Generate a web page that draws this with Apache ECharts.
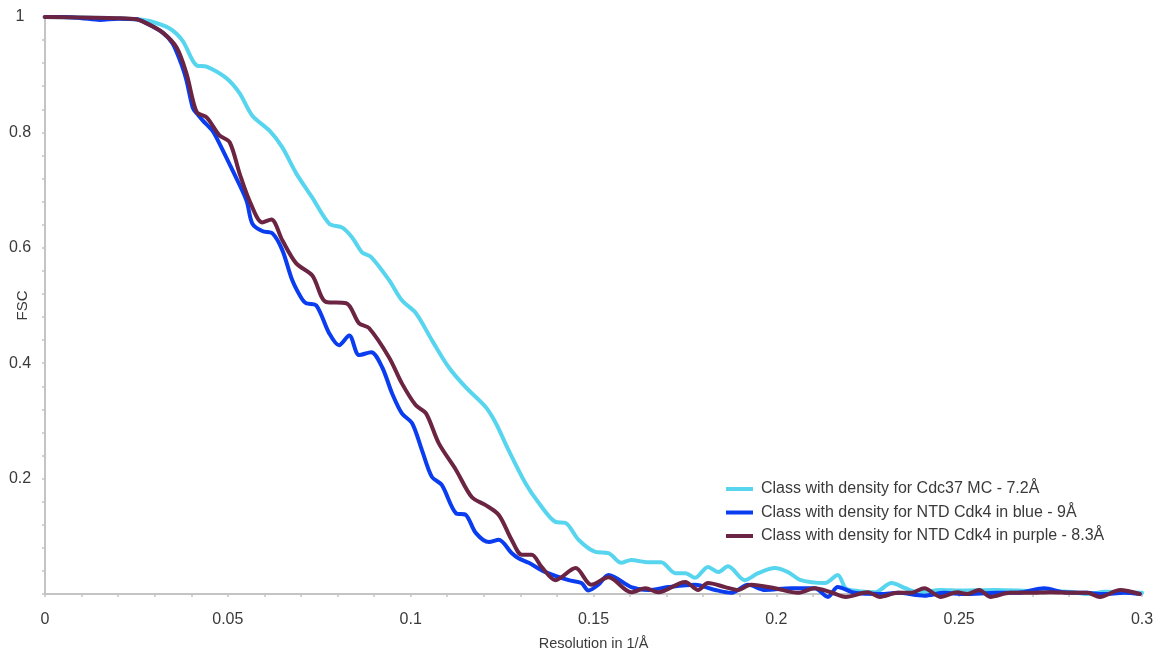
<!DOCTYPE html>
<html>
<head>
<meta charset="utf-8">
<title>FSC curves</title>
<script src="https://cdn.jsdelivr.net/npm/echarts@6/dist/echarts.min.js"></script>
<style>
  html, body { margin: 0; padding: 0; background: #ffffff; }
  #chart { width: 1164px; height: 655px; }
</style>
</head>
<body>
<div id="chart"></div>
<script>
// Fourier shell correlation curves: [resolution (1/Å), FSC]
const seriesNames = [
  'Class with density for Cdc37 MC - 7.2Å',
  'Class with density for NTD Cdk4 in blue - 9Å',
  'Class with density for NTD Cdk4 in purple - 8.3Å'
];

const cdc37MC = [
  [0, 1.0], [0.01, 0.999], [0.02, 0.998], [0.025, 0.996], [0.0286, 0.993],
  [0.0341, 0.980], [0.0376, 0.959], [0.0415, 0.916], [0.0442, 0.914],
  [0.0496, 0.894], [0.0532, 0.868], [0.0567, 0.829], [0.0614, 0.803],
  [0.0649, 0.774], [0.0687, 0.729], [0.0731, 0.687], [0.0777, 0.642],
  [0.0813, 0.635], [0.0840, 0.618], [0.0867, 0.592], [0.0892, 0.584],
  [0.0941, 0.544], [0.0976, 0.509], [0.1014, 0.487], [0.1058, 0.440],
  [0.1104, 0.393], [0.1151, 0.358], [0.1205, 0.324], [0.1233, 0.296],
  [0.1268, 0.249], [0.1314, 0.192], [0.1350, 0.158], [0.1396, 0.125],
  [0.1424, 0.123], [0.1459, 0.094], [0.1505, 0.073], [0.1541, 0.071],
  [0.1576, 0.054], [0.1603, 0.059], [0.1650, 0.055], [0.1685, 0.055],
  [0.1724, 0.036], [0.1751, 0.036], [0.1778, 0.028], [0.1813, 0.047],
  [0.1841, 0.038], [0.1868, 0.048], [0.1914, 0.024], [0.1950, 0.036],
  [0.1996, 0.045], [0.2032, 0.038], [0.2067, 0.024], [0.2133, 0.019],
  [0.2168, 0.033], [0.2190, 0.010], [0.2226, 0.005], [0.2270, 0.003],
  [0.2315, 0.019], [0.2353, 0.010], [0.2390, 0.003], [0.2450, 0.007],
  [0.2500, 0.006], [0.2600, 0.007], [0.2700, 0.005], [0.2800, 0.004],
  [0.2850, 0.000], [0.2900, 0.004], [0.3000, 0.002]
];

const ntdBlue = [
  [0, 1.0], [0.005, 1.0], [0.01, 0.998], [0.015, 0.995], [0.02, 0.997],
  [0.025, 0.996], [0.0278, 0.989], [0.0322, 0.973], [0.0349, 0.954],
  [0.0376, 0.913], [0.0387, 0.890], [0.0404, 0.843], [0.0415, 0.833],
  [0.0431, 0.821], [0.0458, 0.803], [0.0469, 0.791], [0.0513, 0.734],
  [0.0551, 0.682], [0.0567, 0.642], [0.0594, 0.629], [0.0622, 0.625],
  [0.0649, 0.596], [0.0676, 0.544], [0.0701, 0.513], [0.0714, 0.504],
  [0.0742, 0.500], [0.0777, 0.452], [0.0804, 0.431], [0.0832, 0.448],
  [0.0859, 0.414], [0.0892, 0.419], [0.0922, 0.393], [0.0949, 0.348],
  [0.0976, 0.313], [0.1004, 0.296], [0.1031, 0.249], [0.1058, 0.203],
  [0.1085, 0.189], [0.1124, 0.140], [0.1151, 0.137], [0.1178, 0.106],
  [0.1214, 0.090], [0.1241, 0.094], [0.1276, 0.071], [0.1295, 0.062],
  [0.1323, 0.054], [0.1369, 0.038], [0.1432, 0.024], [0.1467, 0.019],
  [0.1486, 0.006], [0.1513, 0.016], [0.1541, 0.033], [0.1603, 0.012],
  [0.1650, 0.007], [0.1704, 0.012], [0.1778, 0.016], [0.1833, 0.007],
  [0.1876, 0.002], [0.1923, 0.016], [0.1969, 0.007], [0.2040, 0.010],
  [0.2105, 0.010], [0.2141, -0.005], [0.2168, 0.012], [0.2214, 0.002],
  [0.2285, 0.000], [0.2332, 0.002], [0.2405, -0.003], [0.2460, 0.002],
  [0.2514, 0.000], [0.2604, 0.002], [0.2659, 0.002], [0.2733, 0.010],
  [0.2787, 0.003], [0.2850, 0.002], [0.2896, 0.000], [0.2951, 0.002],
  [0.2994, 0.000]
];

const ntdPurple = [
  [0, 1.0], [0.01, 0.999], [0.02, 0.998], [0.025, 0.996], [0.0278, 0.989],
  [0.0322, 0.973], [0.0360, 0.947], [0.0387, 0.902], [0.0415, 0.835],
  [0.0442, 0.826], [0.0477, 0.795], [0.0505, 0.783], [0.0532, 0.729],
  [0.0559, 0.682], [0.0594, 0.644], [0.0619, 0.649], [0.0649, 0.613],
  [0.0687, 0.573], [0.0731, 0.552], [0.0769, 0.506], [0.0824, 0.504],
  [0.0859, 0.469], [0.0886, 0.461], [0.0941, 0.410], [0.0976, 0.365],
  [0.1014, 0.327], [0.1042, 0.313], [0.1077, 0.261], [0.1124, 0.215],
  [0.1167, 0.168], [0.1205, 0.154], [0.1241, 0.137], [0.1276, 0.094],
  [0.1304, 0.068], [0.1331, 0.068], [0.1358, 0.047], [0.1396, 0.024],
  [0.1451, 0.045], [0.1494, 0.016], [0.1541, 0.029], [0.1603, 0.003],
  [0.1642, 0.010], [0.1677, 0.003], [0.1751, 0.021], [0.1786, 0.007],
  [0.1813, 0.019], [0.1860, 0.012], [0.1895, 0.007], [0.1931, 0.016],
  [0.1996, 0.010], [0.2059, 0.002], [0.2105, 0.010], [0.2149, 0.003],
  [0.2190, -0.005], [0.2250, 0.003], [0.2283, -0.005], [0.2332, 0.002],
  [0.2367, 0.002], [0.2405, 0.010], [0.2449, -0.005], [0.2495, 0.003],
  [0.2522, 0.000], [0.2555, 0.007], [0.2585, -0.005], [0.2640, 0.002],
  [0.2694, 0.002], [0.2749, 0.003], [0.2814, 0.002], [0.2850, 0.002],
  [0.2885, -0.005], [0.2940, 0.007], [0.2994, 0.000]
];

const xTicks = { min: 0, max: 0.3, step: 0.05 };
const yTicks = { min: 0, max: 1, step: 0.2 };

const colors = ['#58d5ee', '#0b3df0', '#6b2442'];
const fontFamily = '"Liberation Sans", "Helvetica Neue", Arial, sans-serif';
const axisGray = '#c4c4c4';
const textGray = '#3a3a3a';

const chart = echarts.init(document.getElementById('chart'), null, { renderer: 'canvas' });

const fmt = v => (Math.abs(v) < 1e-9 ? '0' : String(+v.toFixed(3)));

function lineSeries(name, data, color) {
  return {
    name: name,
    type: 'line',
    data: data,
    smooth: 0.3,
    showSymbol: false,
    clip: false,
    lineStyle: { color: color, width: 4, cap: 'round', join: 'round' },
    itemStyle: { color: color },
    emphasis: { disabled: true }
  };
}

chart.setOption({
  animation: false,
  backgroundColor: '#ffffff',
  textStyle: { fontFamily: fontFamily },
  color: colors,
  grid: { left: 45, right: 22, top: 17, bottom: 61, containLabel: false, outerBoundsMode: 'none' },
  legend: {
    orient: 'vertical',
    left: 726,
    top: 480,
    padding: 0,
    icon: 'rect',
    itemWidth: 27,
    itemHeight: 4,
    itemGap: 5.5,
    textStyle: { fontSize: 16, color: textGray, fontFamily: fontFamily, lineHeight: 18, padding: [0, 0, 0, 3] },
    data: seriesNames
  },
  xAxis: {
    type: 'value',
    min: xTicks.min,
    max: xTicks.max,
    interval: xTicks.step,
    name: 'Resolution in 1/Å',
    nameLocation: 'middle',
    nameGap: 42,
    nameMoveOverlap: false,
    nameTextStyle: { fontSize: 14.5, color: textGray, fontFamily: fontFamily },
    axisLine: { show: true, onZero: false, lineStyle: { color: axisGray, width: 2 } },
    axisTick: { show: true, length: 3, lineStyle: { color: axisGray, width: 1.5 } },
    minorTick: { show: true, splitNumber: 5, length: 3, lineStyle: { color: axisGray, width: 1.5 } },
    splitLine: { show: false },
    axisLabel: { fontSize: 16, color: textGray, margin: 18, formatter: fmt }
  },
  yAxis: {
    type: 'value',
    min: yTicks.min,
    max: yTicks.max,
    interval: yTicks.step,
    name: 'FSC',
    nameLocation: 'middle',
    nameRotate: 90,
    nameGap: 15,
    nameMoveOverlap: false,
    nameTextStyle: { fontSize: 15, color: textGray, fontFamily: fontFamily },
    axisLine: { show: true, lineStyle: { color: axisGray, width: 2 } },
    axisTick: { show: true, length: 3, lineStyle: { color: axisGray, width: 1.5 } },
    minorTick: { show: true, splitNumber: 5, length: 3, lineStyle: { color: axisGray, width: 1.5 } },
    splitLine: { show: false },
    axisLabel: {
      fontSize: 16,
      color: textGray,
      margin: 25,
      align: 'center',
      formatter: v => (Math.abs(v) < 1e-9 ? '' : fmt(v))
    }
  },
  series: [
    lineSeries(seriesNames[0], cdc37MC, colors[0]),
    lineSeries(seriesNames[1], ntdBlue, colors[1]),
    lineSeries(seriesNames[2], ntdPurple, colors[2])
  ]
});
</script>
</body>
</html>
